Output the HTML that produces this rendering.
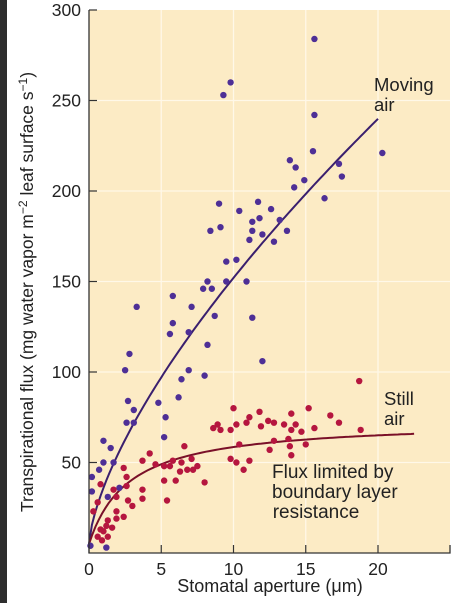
<!DOCTYPE html>
<html><head><meta charset="utf-8"><style>
html,body{margin:0;padding:0;background:#fff;}
svg{display:block;font-family:"Liberation Sans","DejaVu Sans",sans-serif;}
</style></head><body>
<svg id="chart" width="455" height="603" viewBox="0 0 455 603">
<rect x="0" y="0" width="7" height="603" fill="#2e2e2e"/>
<rect x="89" y="10" width="361" height="543" fill="#fcebc5"/>
<g id="grid"></g>
<g id="curves"></g>
<g id="pts"></g>
<g id="axes"></g>
<text x="0" y="0" transform="translate(33,292) rotate(-90)" text-anchor="middle" font-size="17.5" fill="#222">Transpirational flux (mg water vapor m<tspan dy="-6" font-size="12">−2</tspan><tspan dy="6"> leaf surface s</tspan><tspan dy="-6" font-size="12">−1</tspan><tspan dy="6">)</tspan></text>
<text x="270" y="592" text-anchor="middle" font-size="18" fill="#222">Stomatal aperture (μm)</text>
<text x="374" y="91" font-size="18.5" fill="#222">Moving</text>
<text x="374" y="111" font-size="18.5" fill="#222">air</text>
<text x="384" y="405" font-size="18.5" fill="#222">Still</text>
<text x="384" y="425" font-size="18.5" fill="#222">air</text>
<text x="272" y="478" font-size="19" fill="#222">Flux limited by</text>
<text x="272" y="498" font-size="19" fill="#222">boundary layer</text>
<text x="316" y="518" text-anchor="middle" font-size="19" fill="#222">resistance</text>
</svg>
<script>
const xTicks=[0,5,10,15,20];
const yTicks=[50,100,150,200,250,300];
const stillX=[10.0,9.1,9.8,10.2,10.9,11.1,11.8,11.9,12.4,12.8,13.5,14.0,14.3,14.0,14.7,15.2,15.6,16.7,17.3,18.7,18.8,10.4,12.8,13.8,12.5,13.9,15.0,14.0,9.8,10.2,11.1,10.7,8.6,8.9,6.6,3.7,4.2,4.6,5.2,5.6,5.8,6.4,7.1,5.2,6.0,6.3,6.8,7.2,7.5,8.0,2.4,2.6,0.8,1.7,2.6,2.7,1.9,3.7,3.7,3.0,5.4,0.6,0.3,1.9,2.4,1.9,1.3,1.6,1.2,0.8,0.6,0.9,1.3,1.0];
const stillY=[80,68,68,71,72,75,78,70,73,72,71,77,71,68,67,80,69,76,72,95,68,60,62,63,57,59,60,54,52,50,51,46,69,71,59,51,55,49,48,48,51,50,52,40,40,45,46,46,48,39,47,42,38,35,37,29,31,35,30,26,29,28,23,23,20,19,18,14,15,13,9,7,9,12];
const movingX=[8.2,7.9,8.5,9.5,10.9,5.8,7.1,3.3,8.7,11.3,5.8,5.6,6.9,8.2,2.8,12.0,2.5,6.9,6.4,8.0,6.2,2.7,3.1,4.8,5.3,2.6,3.1,5.2,1.0,1.5,1.0,1.7,0.7,0.2,0.2,1.3,2.1,0.1,1.2,15.6,9.8,9.3,15.6,15.5,20.3,13.9,14.3,17.3,17.5,14.9,14.2,16.3,9.0,11.7,10.4,12.6,11.3,11.8,13.2,8.4,9.1,11.3,12.0,11.1,13.7,12.8,9.5,10.2];
const movingY=[150,146,146,150,150,142,136,136,131,130,127,121,122,115,110,106,101,101,96,98,86,84,79,83,75,72,72,64,62,58,50,50,46,42,34,31,36,4,3,284,260,253,242,222,221,217,213,215,208,206,202,196,193,194,189,190,183,185,184,178,180,178,176,173,178,172,161,162];
const X0=89,XS=14.45,Y0=553,YS=1.81;
const sx=v=>X0+v*XS, sy=v=>Y0-v*YS;
const NS="http://www.w3.org/2000/svg";
function mk(tag,attrs,parent){const e=document.createElementNS(NS,tag);for(const k in attrs)e.setAttribute(k,attrs[k]);parent.appendChild(e);return e;}
const grid=document.getElementById('grid'),axes=document.getElementById('axes'),pts=document.getElementById('pts'),curves=document.getElementById('curves');
xTicks.forEach(t=>{
  if(t>0){const g=mk('line',{x1:sx(t),x2:sx(t),y1:10,y2:Y0,stroke:'#fff8e8','stroke-width':1.3},grid);
  
  }
  const tk=mk('line',{x1:sx(t),x2:sx(t),y1:Y0,y2:Y0-8,stroke:'#333','stroke-width':1.2},axes);
  
  
  const lb=mk('text',{x:sx(t),y:Y0+22,'text-anchor':'middle','font-size':17.5,fill:'#222'},axes);lb.textContent=t;
  
  
});
yTicks.forEach(t=>{
  if(t<300){const g=mk('line',{x1:X0,x2:450,y1:sy(t),y2:sy(t),stroke:'#fff8e8','stroke-width':1.3},grid);
  
  }
  const tk=mk('line',{x1:X0,x2:X0+8,y1:sy(t),y2:sy(t),stroke:'#333','stroke-width':1.2},axes);
  
  
  const lb=mk('text',{x:X0-8,y:sy(t)+6,'text-anchor':'end','font-size':17.5,fill:'#222'},axes);lb.textContent=t;
  
  
});
const ax=mk('path',{d:`M${X0} 10 V${Y0} H450 V${Y0-8}`,fill:'none',stroke:'#333','stroke-width':1.3},axes);


let d1='',d2='';
for(let i=0;i<=100;i++){const x=20*i/100;d1+=(i?'L':'M')+sx(x).toFixed(1)+' '+sy(5+31*Math.pow(x,0.676)).toFixed(1);}
for(let i=0;i<=100;i++){const x=22.5*i/100;d2+=(i?'L':'M')+sx(x).toFixed(1)+' '+sy(5+68.3*x/(2.76+x)).toFixed(1);}
const c1=mk('path',{d:d1,fill:'none',stroke:'#3a1f6e','stroke-width':2},curves);


const c2=mk('path',{d:d2,fill:'none',stroke:'#7a1028','stroke-width':2},curves);


movingX.forEach((x,i)=>{const c=mk('circle',{cx:sx(x),cy:sy(movingY[i]),r:3.2,fill:'#4e2f96'},pts);
  
  });
stillX.forEach((x,i)=>{const c=mk('circle',{cx:sx(x),cy:sy(stillY[i]),r:3.2,fill:'#b5163f'},pts);
  
  });
</script>
</body></html>
